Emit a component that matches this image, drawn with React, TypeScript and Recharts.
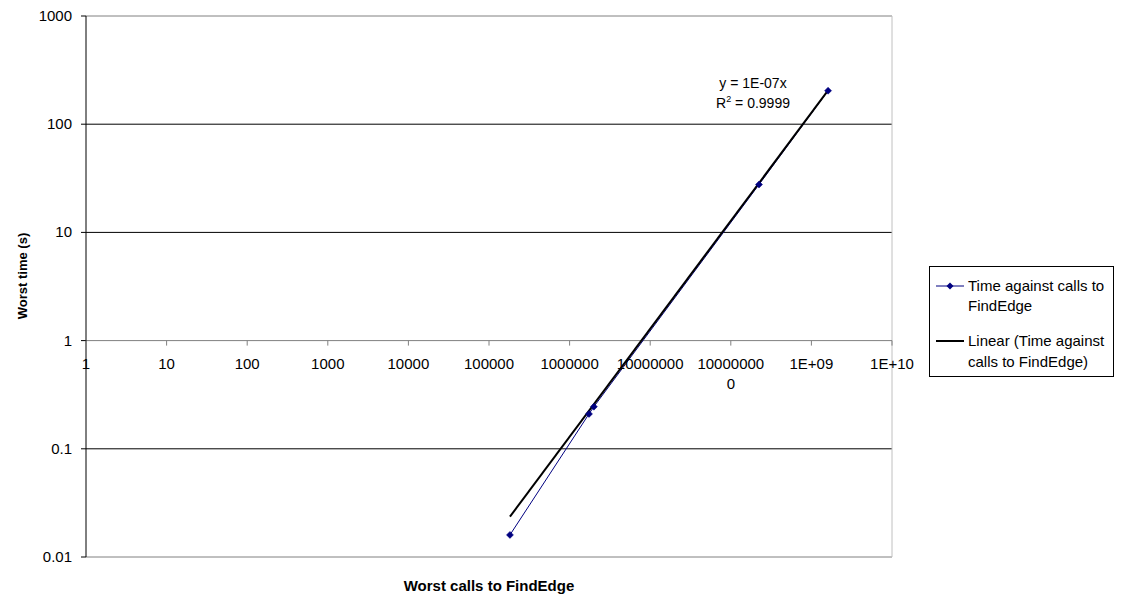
import React from "react";
import {
  ComposedChart,
  Line,
  XAxis,
  YAxis,
  ReferenceLine,
} from "recharts";

// Data points: worst calls to FindEdge vs worst time (s)
const callsX = [182000, 1740000, 2000000, 224000000, 1610000000];
const worstTime = [0.016, 0.21, 0.245, 27.7, 204];

// Linear trendline (through origin) endpoints, as drawn
const trendX = [182000, 1610000000];
const trendY = [0.0236, 205];

const xTicks = [1, 10, 100, 1000, 10000, 100000, 1000000, 10000000, 100000000, 1000000000, 10000000000];
const xTickLabels = [
  ["1"], ["10"], ["100"], ["1000"], ["10000"], ["100000"], ["1000000"],
  ["10000000"], ["10000000", "0"], ["1E+09"], ["1E+10"],
];
const yTicks = [0.01, 0.1, 1, 10, 100, 1000];
const yTickLabels = ["0.01", "0.1", "1", "10", "100", "1000"];
const gridValues = [100, 10, 0.1];

const seriesName = "Time against calls to FindEdge";
const trendName = "Linear (Time against calls to FindEdge)";
const equationText = "y = 1E-07x";
const r2Value = "0.9999";

const seriesData = callsX.map((x, i) => ({ x, y: worstTime[i] }));
const trendData = trendX.map((x, i) => ({ x, y: trendY[i] }));

const FONT = "'Liberation Sans', Arial, sans-serif";
const W = 1121;
const H = 595;
const M = { top: 16, right: 229, bottom: 37, left: 0 };
const X_AXIS_H = 1;
const Y_AXIS_W = 86;
const PLOT_H = H - M.top - M.bottom - X_AXIS_H;
const AXIS_Y = M.top + (PLOT_H * 3) / 5; // y=1 position

const Diamond = (props: any) => {
  const { cx, cy } = props;
  if (cx == null || cy == null) return null;
  const r = 3.5;
  return (
    <polygon
      points={`${cx},${cy - r} ${cx + r},${cy} ${cx},${cy + r} ${cx - r},${cy}`}
      fill="#000080"
      stroke="#000080"
      strokeWidth={0.5}
    />
  );
};

const XTick = (props: any) => {
  const { x, payload } = props;
  const idx = xTicks.indexOf(payload.value);
  const lines = idx >= 0 ? xTickLabels[idx] : [String(payload.value)];
  return (
    <g>
      <line x1={x} x2={x} y1={AXIS_Y} y2={AXIS_Y + 5} stroke="#808080" strokeWidth={1} />
      <text x={x} y={AXIS_Y} textAnchor="middle" fontFamily={FONT} fontSize={15} fill="#000">
        {lines.map((l: string, i: number) => (
          <tspan key={i} x={x} dy={i === 0 ? 28 : 20}>
            {l}
          </tspan>
        ))}
      </text>
    </g>
  );
};

const YTick = (props: any) => {
  const { x, y, payload } = props;
  const idx = yTicks.indexOf(payload.value);
  return (
    <text x={x - 7} y={y} dy={5} textAnchor="end" fontFamily={FONT} fontSize={15} fill="#000">
      {idx >= 0 ? yTickLabels[idx] : String(payload.value)}
    </text>
  );
};

const LegendBox = () => (
  <div
    style={{
      position: "absolute",
      left: 929,
      top: 266,
      border: "1px solid #000",
      width: 185,
      height: 111,
      boxSizing: "border-box",
      fontFamily: FONT,
      fontSize: 15,
      color: "#000",
      background: "#fff",
    }}
  >
    <svg width={30} height={10} style={{ position: "absolute", left: 6, top: 14 }}>
      <line x1={0} x2={28} y1={5} y2={5} stroke="#000080" strokeWidth={1} />
      <polygon points="14,1.5 17.5,5 14,8.5 10.5,5" fill="#000080" />
    </svg>
    <div style={{ position: "absolute", left: 38, top: 9, lineHeight: "20px", whiteSpace: "nowrap" }}>
      Time against calls to
      <br />
      FindEdge
    </div>
    <svg width={30} height={10} style={{ position: "absolute", left: 6, top: 69 }}>
      <line x1={0} x2={28} y1={5} y2={5} stroke="#000" strokeWidth={2} />
    </svg>
    <div style={{ position: "absolute", left: 38, top: 63, lineHeight: "21px", whiteSpace: "nowrap" }}>
      Linear (Time against
      <br />
      calls to FindEdge)
    </div>
  </div>
);

export default function App() {
  return (
    <div style={{ position: "absolute", left: 0, top: 0, width: W, height: H, background: "#fff" }}>
      <ComposedChart width={W} height={H} margin={M}>
        <XAxis
          type="number"
          dataKey="x"
          scale="log"
          domain={[1, 10000000000]}
          ticks={xTicks}
          interval={0}
          axisLine={false}
          tickLine={false}
          tick={<XTick />}
          height={X_AXIS_H}
          allowDataOverflow
        />
        <YAxis
          type="number"
          dataKey="y"
          scale="log"
          domain={[0.01, 1000]}
          ticks={yTicks}
          interval={0}
          width={Y_AXIS_W}
          axisLine={{ stroke: "#000", strokeWidth: 1 }}
          tickLine={{ stroke: "#000", strokeWidth: 1 }}
          tickSize={5}
          tick={<YTick />}
          allowDataOverflow
        />
        {gridValues.map((v) => (
          <ReferenceLine key={v} y={v} stroke="#000" strokeWidth={1} />
        ))}
        <ReferenceLine y={1000} stroke="#808080" strokeWidth={1} />
        <ReferenceLine y={0.01} stroke="#808080" strokeWidth={1} />
        <ReferenceLine x={10000000000} stroke="#c0c0c0" strokeWidth={1} />
        <ReferenceLine y={1} stroke="#808080" strokeWidth={1} />
        <Line
          data={seriesData}
          dataKey="y"
          name={seriesName}
          stroke="#000080"
          strokeWidth={1}
          dot={<Diamond />}
          activeDot={false}
          isAnimationActive={false}
          type="linear"
        />
        <Line
          data={trendData}
          dataKey="y"
          name={trendName}
          stroke="#000"
          strokeWidth={2}
          dot={false}
          activeDot={false}
          isAnimationActive={false}
          type="linear"
        />
      </ComposedChart>
      <LegendBox />
      <div
        style={{
          position: "absolute",
          left: 22,
          top: 276,
          transform: "translate(-50%, -50%) rotate(-90deg)",
          fontFamily: FONT,
          fontSize: 13,
          fontWeight: "bold",
          whiteSpace: "nowrap",
        }}
      >
        Worst time (s)
      </div>
      <div
        style={{
          position: "absolute",
          left: 489,
          top: 585,
          transform: "translate(-50%, -50%)",
          fontFamily: FONT,
          fontSize: 15,
          fontWeight: "bold",
          whiteSpace: "nowrap",
        }}
      >
        Worst calls to FindEdge
      </div>
      <div
        style={{
          position: "absolute",
          left: 753,
          top: 73,
          transform: "translateX(-50%)",
          fontFamily: FONT,
          fontSize: 14,
          lineHeight: "20px",
          textAlign: "center",
          whiteSpace: "nowrap",
        }}
      >
        {equationText}
        <br />
        R<sup style={{ fontSize: 9, verticalAlign: "6px", lineHeight: 0 }}>2</sup> = {r2Value}
      </div>
    </div>
  );
}
